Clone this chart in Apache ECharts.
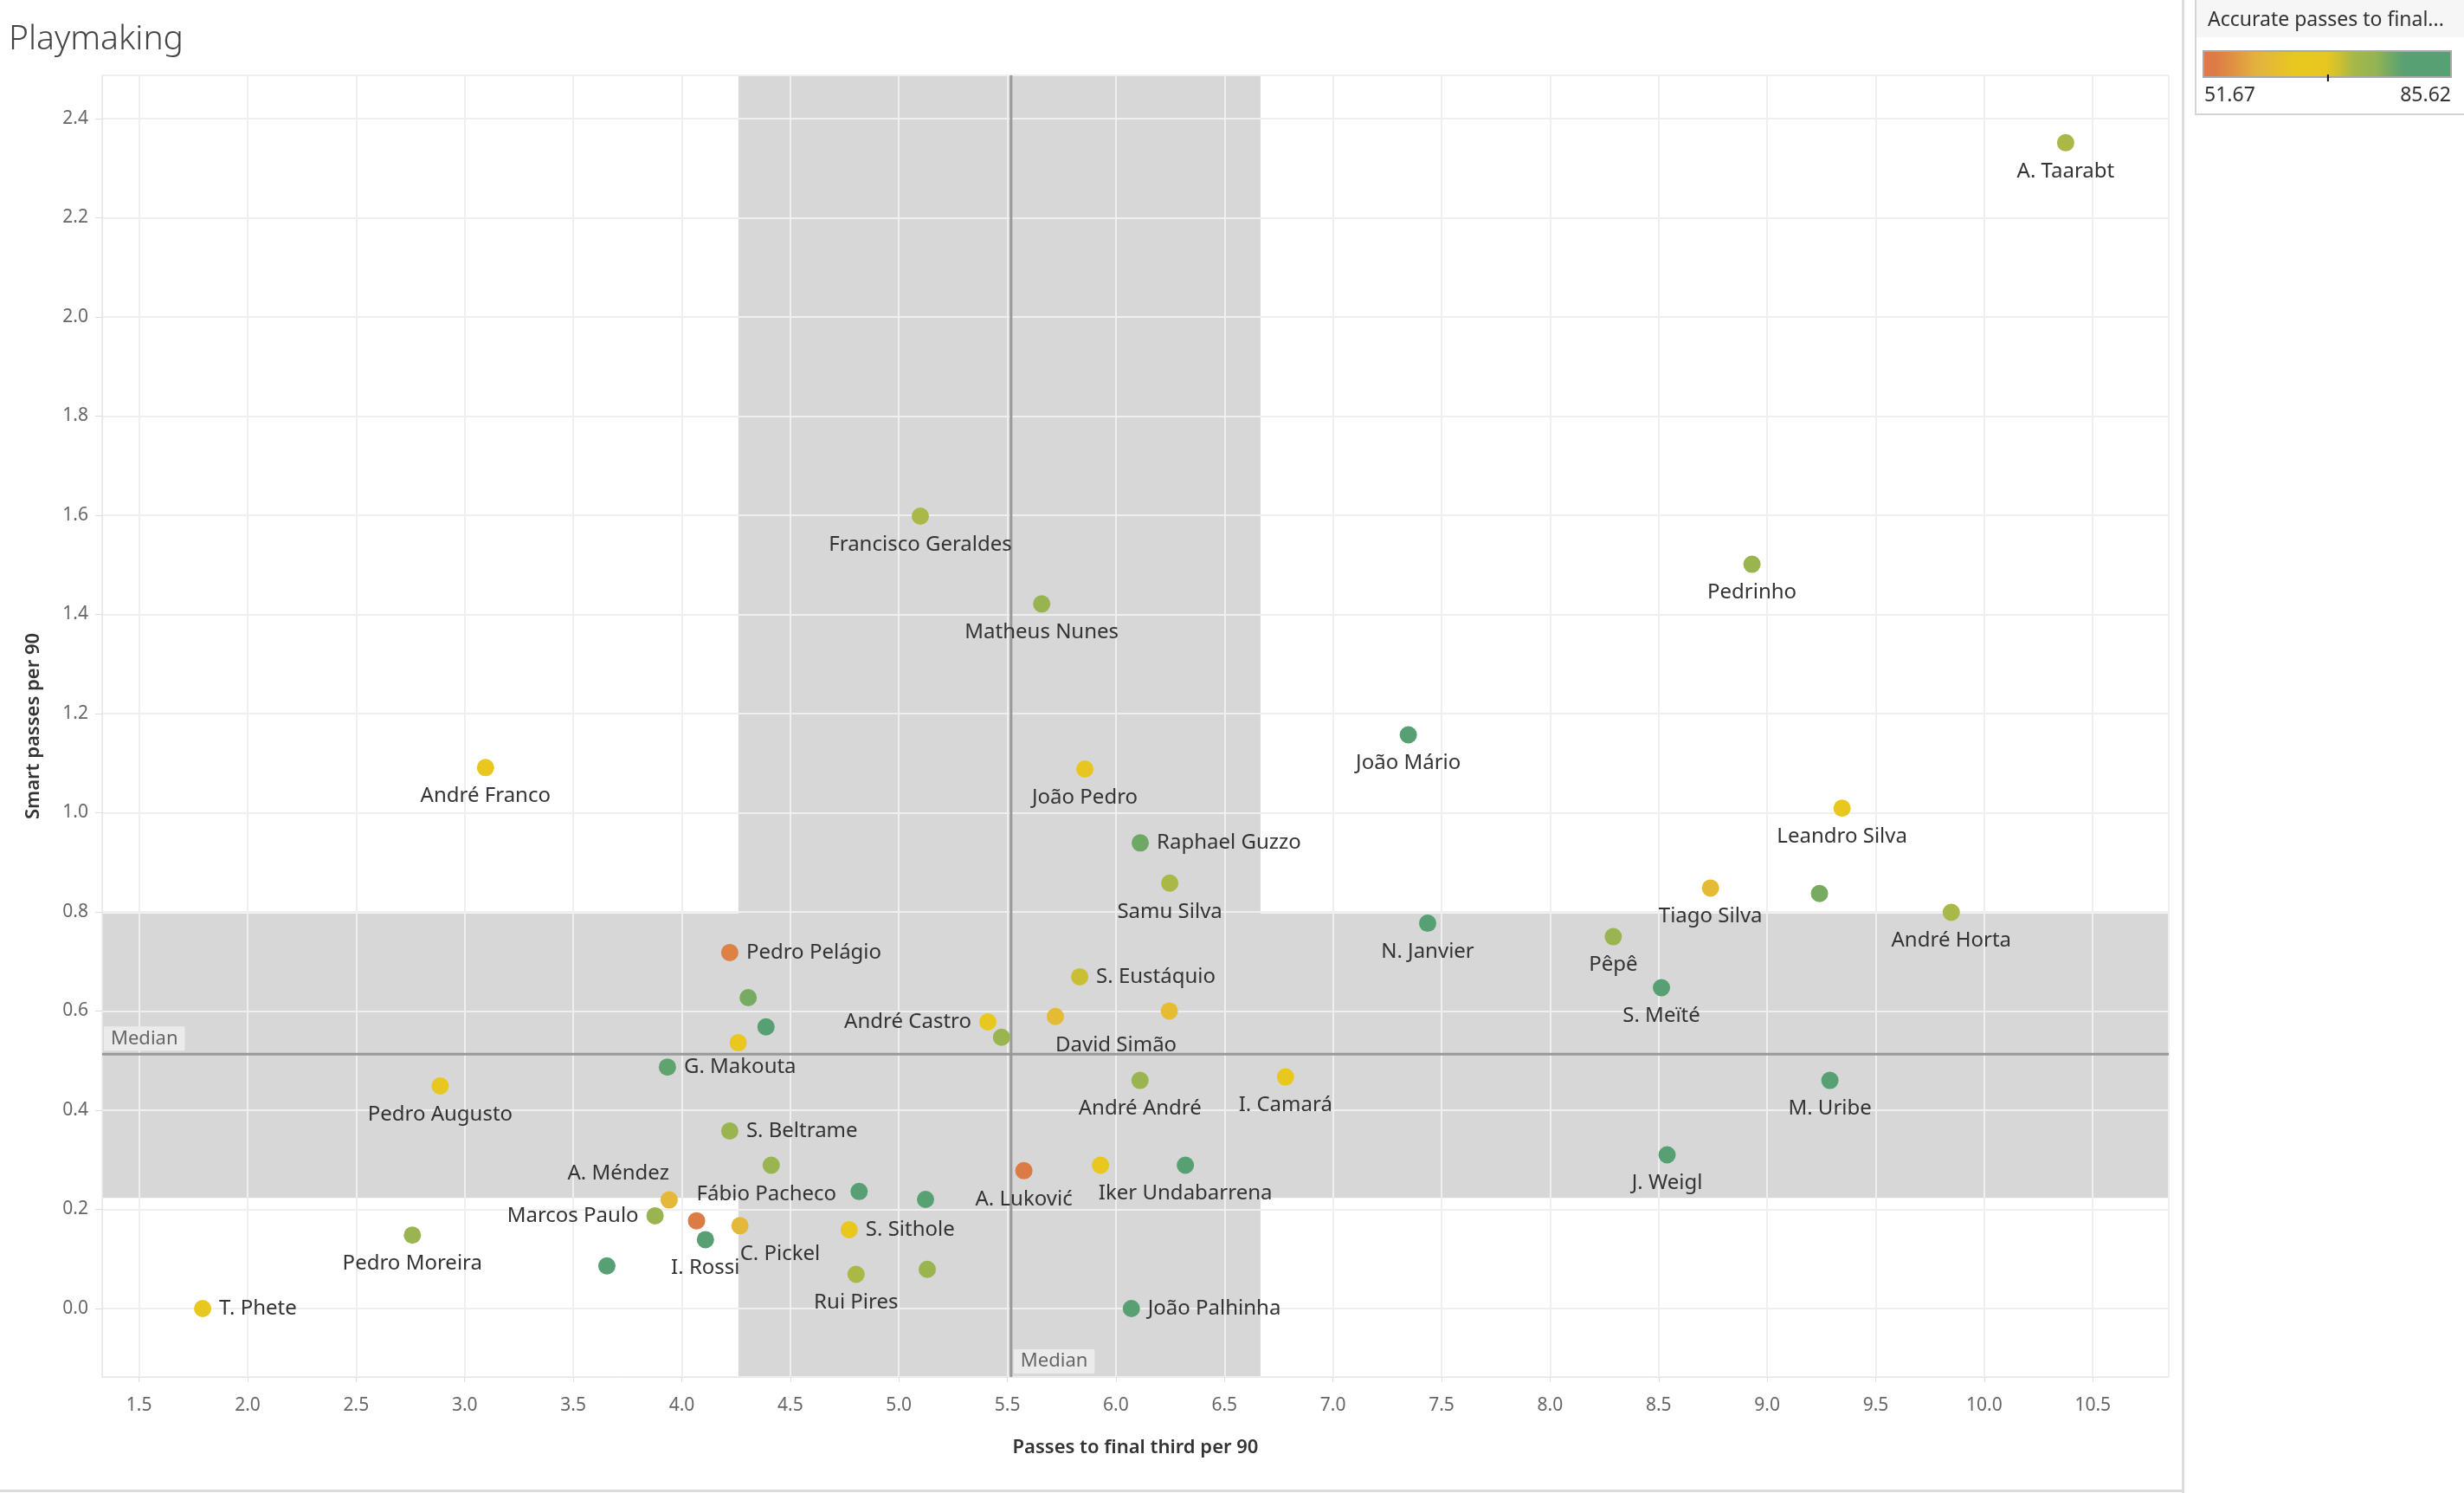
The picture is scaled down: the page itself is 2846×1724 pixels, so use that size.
<!DOCTYPE html>
<html>
<head>
<meta charset="utf-8">
<script src="https://cdn.jsdelivr.net/npm/echarts@6/dist/echarts.min.js"></script>
<style>
html,body{margin:0;padding:0;background:#ffffff;}
#chart{width:2846px;height:1724px;}
</style>
</head>
<body>
<div id="chart"></div>
<script>
// ---------------- data ----------------
const players = [
  'A. Taarabt','Francisco Geraldes','Pedrinho','Matheus Nunes','João Mário',
  'André Franco','João Pedro','Leandro Silva','Raphael Guzzo','Samu Silva',
  'Tiago Silva','','André Horta','N. Janvier','Pêpê',
  'Pedro Pelágio','S. Eustáquio','S. Meïté','','André Castro',
  'David Simão','','','','',
  'G. Makouta','I. Camará','M. Uribe','André André','Pedro Augusto',
  'S. Beltrame','J. Weigl','','Iker Undabarrena','',
  'A. Luković','','','A. Méndez','Marcos Paulo',
  'Fábio Pacheco','C. Pickel','S. Sithole','Pedro Moreira','I. Rossi',
  '','Rui Pires','','T. Phete','João Palhinha'
];
const passesToFinalThird = [
  10.375, 5.099, 8.930, 5.658, 7.347,
  3.096, 5.857, 9.345, 6.112, 6.248,
  8.739, 9.241, 9.848, 7.436, 8.291,
  4.221, 5.833, 8.513, 4.306, 5.410,
  5.721, 6.246, 4.388, 5.473, 4.260,
  3.934, 6.781, 9.289, 6.111, 2.887,
  4.221, 8.539, 4.412, 6.320, 5.929,
  5.576, 4.817, 5.123, 3.942, 3.877,
  4.068, 4.268, 4.771, 2.759, 4.109,
  3.655, 4.803, 5.131, 1.793, 6.071
];
const smartPasses = [
  2.351, 1.598, 1.501, 1.421, 1.157,
  1.091, 1.088, 1.009, 0.939, 0.858,
  0.848, 0.837, 0.799, 0.777, 0.750,
  0.718, 0.669, 0.647, 0.627, 0.578,
  0.589, 0.600, 0.568, 0.547, 0.536,
  0.487, 0.467, 0.460, 0.460, 0.449,
  0.358, 0.310, 0.289, 0.289, 0.289,
  0.278, 0.236, 0.220, 0.219, 0.187,
  0.177, 0.167, 0.159, 0.148, 0.139,
  0.086, 0.069, 0.079, 0.000, 0.000
];
const accuratePassesPct = [
  72, 72, 74, 74.5, 82,
  66, 63.5, 66, 77.5, 72,
  61, 77, 72, 82, 74,
  54, 70.5, 82, 77, 66,
  61, 61.5, 82, 74, 66,
  78.5, 66, 82, 74, 64.5,
  74, 82, 74, 82, 66,
  53, 82, 80, 60.5, 74,
  53, 60.5, 66, 74, 82,
  82, 72, 74, 66, 82
];
const xRange = [1.33, 10.85];
const yRange = [-0.138, 2.487];
const xTickStep = [0.5];
const yTickStep = [0.2];
const medianValues = [5.517, 0.513];          // [x median, y median]
const bandX = [4.261, 6.666];
const bandY = [0.223, 0.797];
const colorRange = [51.67, 85.62];
const legendTickLabels = ['51.67', '85.62'];
const legendCenterValue = [68.75];

// ---------------- styles ----------------
const FONT = '"Noto Sans", "Open Sans", sans-serif';
const colorStops = [
  '#dd7b46','#dd7b46','#df8a44','#e09b42','#e2ae3e','#e4b73a','#e6be30',
  '#e8c622','#e8c81f','#e8c81f','#e6c621','#cdc030','#a9b848','#9bb550',
  '#93b353','#74aa62','#5aa272','#57a074','#57a074','#57a074','#57a074'
];
const labelPlacement = {
  'Raphael Guzzo':'right','Pedro Pelágio':'right','S. Eustáquio':'right',
  'G. Makouta':'right','S. Beltrame':'right','S. Sithole':'right',
  'T. Phete':'right','João Palhinha':'right',
  'André Castro':'left','Marcos Paulo':'left',
  'David Simão':'bottomLeft','C. Pickel':'bottomLeft',
  'A. Méndez':'topRight','Fábio Pacheco':'topLeft'
};
function labelFor(name){
  const p = labelPlacement[name] || 'bottom';
  switch(p){
    case 'right': return {position:'right', distance:9};
    case 'left': return {position:'left', distance:9};
    case 'bottomLeft': return {position:'bottom', distance:11, align:'left'};
    case 'topRight': return {position:'top', distance:8, align:'right'};
    case 'topLeft': return {position:'top', distance:8, align:'left'};
    default: return {position:'bottom', distance:11};
  }
}

const scatterData = players.map((n, i) => ({
  name: n,
  value: [passesToFinalThird[i], smartPasses[i], accuratePassesPct[i]],
  label: labelFor(n)
}));

// legend geometry
const LG = {x:2545, y:59, w:286, h:30};
const gradStops = colorStops.map((c, i) => ({offset: i/(colorStops.length-1), color: c}));
const tickX = LG.x + (legendCenterValue[0]-colorRange[0])/(colorRange[1]-colorRange[0]) * LG.w;

const chart = echarts.init(document.getElementById('chart'), null, {renderer:'canvas'});

const option = {
  animation: false,
  backgroundColor: '#ffffff',
  textStyle: {fontFamily: FONT},
  grid: {left:118, right:341, top:87, bottom:134, containLabel:false},
  visualMap: {
    type:'continuous', show:false, dimension:2, seriesIndex:2,
    min: colorRange[0], max: colorRange[1],
    inRange: {color: colorStops}
  },
  xAxis: {
    type:'value', z:2,
    min: xRange[0], max: xRange[1],
    minInterval: xTickStep[0], maxInterval: xTickStep[0],
    name:'Passes to final third per 90', nameLocation:'middle', nameGap:71,
    nameTextStyle:{fontSize:22, fontWeight:600, color:'#333', fontFamily:FONT},
    axisLine:{show:true, onZero:false, lineStyle:{color:'#e6e6e6', width:1}},
    axisTick:{show:true, length:6, lineStyle:{color:'#dddddd'}},
    axisLabel:{
      formatter: v => v.toFixed(1), color:'#666', fontSize:21, fontFamily:FONT,
      margin:23, showMinLabel:false, showMaxLabel:false
    },
    splitLine:{show:true, lineStyle:{color:'#efefef', width:2}}
  },
  yAxis: {
    type:'value', z:2,
    min: yRange[0], max: yRange[1],
    minInterval: yTickStep[0], maxInterval: yTickStep[0],
    name:'Smart passes per 90', nameLocation:'middle', nameGap:68, nameRotate:90,
    nameTextStyle:{fontSize:22, fontWeight:600, color:'#333', fontFamily:FONT},
    axisLine:{show:true, onZero:false, lineStyle:{color:'#e6e6e6', width:1}},
    axisTick:{show:true, length:8, lineStyle:{color:'#dddddd'}},
    axisLabel:{
      formatter: v => v.toFixed(1), color:'#666', fontSize:21, fontFamily:FONT,
      margin:16, showMinLabel:false, showMaxLabel:false
    },
    splitLine:{show:true, lineStyle:{color:'#efefef', width:2}}
  },
  series: [
    {
      type:'custom', z:1, silent:true,
      data:[[xRange[0], yRange[0]]],
      renderItem: (params, api) => {
        const cs = params.coordSys;
        const x0 = api.coord([bandX[0], yRange[0]])[0];
        const x1 = api.coord([bandX[1], yRange[0]])[0];
        const yT = api.coord([xRange[0], bandY[1]])[1];
        const yB = api.coord([xRange[0], bandY[0]])[1];
        return {type:'group', children:[
          {type:'rect', shape:{x:x0, y:cs.y, width:x1-x0, height:cs.height}, style:{fill:'#d7d7d7'}},
          {type:'rect', shape:{x:cs.x, y:yT, width:cs.width, height:yB-yT}, style:{fill:'#d7d7d7'}}
        ]};
      }
    },
    {
      type:'custom', z:3, silent:true,
      data:[[medianValues[0], medianValues[1]]],
      renderItem: (params, api) => {
        const cs = params.coordSys;
        const p = api.coord([api.value(0), api.value(1)]);
        return {type:'group', children:[
          {type:'line', shape:{x1:p[0], y1:cs.y, x2:p[0], y2:cs.y+cs.height}, style:{stroke:'#999999', lineWidth:3}},
          {type:'line', shape:{x1:cs.x, y1:p[1], x2:cs.x+cs.width, y2:p[1]}, style:{stroke:'#999999', lineWidth:3}},
          {type:'text', x:cs.x+2, y:p[1]-4, style:{
            text:'Median', fill:'#666', font:'22px ' + FONT, align:'left', verticalAlign:'bottom',
            backgroundColor:'#ebebeb', padding:[3,8,3,8]}},
          {type:'text', x:p[0]+3, y:cs.y+cs.height-4, style:{
            text:'Median', fill:'#666', font:'22px ' + FONT, align:'left', verticalAlign:'bottom',
            backgroundColor:'#ebebeb', padding:[3,8,3,8]}}
        ]};
      }
    },
    {
      type:'scatter', z:4,
      symbol:'circle', symbolSize:20,
      data: scatterData,
      itemStyle:{opacity:1},
      label:{show:true, formatter:'{b}', color:'#333', fontSize:24, fontFamily:FONT},
      emphasis:{disabled:true}
    }
  ],
  graphic: [
    {type:'text', x:10, y:46, z:10, style:{text:'Playmaking', fill:'#444', font:'300 39px ' + FONT, verticalAlign:'middle'}},
    {type:'rect', z:10, shape:{x:0, y:1720, width:2522, height:3}, style:{fill:'#dcdcdc'}},
    {type:'rect', z:10, shape:{x:2520, y:0, width:3, height:1724}, style:{fill:'#dcdcdc'}},
    {type:'rect', z:10, shape:{x:2536, y:-4, width:320, height:136}, style:{fill:'#ffffff', stroke:'#d4d4d4', lineWidth:2}},
    {type:'rect', z:11, shape:{x:2537, y:0, width:309, height:43}, style:{fill:'#f6f6f6'}},
    {type:'text', z:12, x:2550, y:23, style:{text:'Accurate passes to final...', fill:'#333', font:'23px ' + FONT, verticalAlign:'middle'}},
    {type:'rect', z:12, shape:{x:LG.x, y:LG.y, width:LG.w, height:LG.h},
      style:{fill:new echarts.graphic.LinearGradient(0,0,1,0, gradStops), stroke:'#a8a8a8', lineWidth:2}},
    {type:'rect', z:13, shape:{x:tickX-1, y:LG.y+LG.h-3, width:2, height:8}, style:{fill:'#111'}},
    {type:'text', z:12, x:LG.x+1, y:110, style:{text:legendTickLabels[0], fill:'#333', font:'23px ' + FONT, align:'left', verticalAlign:'middle'}},
    {type:'text', z:12, x:LG.x+LG.w, y:110, style:{text:legendTickLabels[1], fill:'#333', font:'23px ' + FONT, align:'right', verticalAlign:'middle'}}
  ]
};
chart.setOption(option);
</script>
</body>
</html>
